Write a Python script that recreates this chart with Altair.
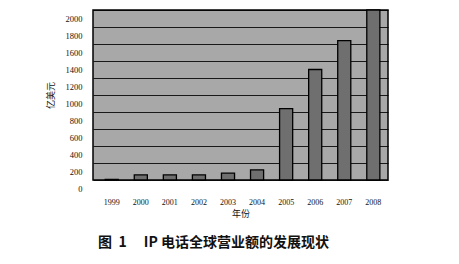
import altair as alt
import pandas as pd

years = ["1999", "2000", "2001", "2002", "2003", "2004", "2005", "2006", "2007", "2008"]
revenue = [8, 60, 60, 60, 80, 120, 840, 1300, 1640, 2000]
y_ticks = [0, 200, 400, 600, 800, 1000, 1200, 1400, 1600, 1800, 2000]

df = pd.DataFrame({"year": years, "revenue": revenue})

serif = "Liberation Serif"
cjk = "Noto Sans CJK SC"

chart = alt.Chart(df).mark_bar(
    color="#6f6f6f", stroke="#000000", strokeWidth=1.3
).encode(
    x=alt.X("year:N", sort=years,
            scale=alt.Scale(paddingInner=0.55, paddingOuter=0.35, align=0.6),
            axis=alt.Axis(title="年份", labelAngle=0, ticks=False, domain=False,
                          labelFont=serif, labelFontSize=8, labelColor="#111111",
                          labelPadding=18, titleFont=cjk, titleFontSize=9,
                          titleFontWeight="normal", titleColor="#111111", titlePadding=3)),
    y=alt.Y("revenue:Q",
            scale=alt.Scale(domain=[0, 2000], nice=False),
            axis=alt.Axis(title="亿美元", values=y_ticks, format="d", ticks=False, domain=False,
                          grid=True, gridColor="#000000", gridWidth=1, gridOpacity=0.85,
                          labelFont=serif, labelFontSize=8.5, labelColor="#111111",
                          labelPadding=11, labelOffset=8, labelFlush=False,
                          titleFont=cjk, titleFontSize=9, titleFontWeight="normal",
                          titleColor="#111111", titlePadding=10)),
).properties(
    width=295, height=170,
    padding={"left": 93, "top": 10, "right": 71, "bottom": 84},
    autosize="none",
    background="#ffffff",
    title=alt.TitleParams(
        "图\u00a0\u00a01\u2003\u00a0IP\u00a0电话全球营业额的发展现状", orient="bottom", anchor="middle",
        font=cjk, fontSize=14, fontWeight="bold", color="#111111", offset=18, dx=-27,
    ),
).configure_view(
    fill="#a8a8a8", stroke="#000000", strokeWidth=1.5
)

chart.save("out.html", embed_options={"renderer": "svg", "actions": False})
